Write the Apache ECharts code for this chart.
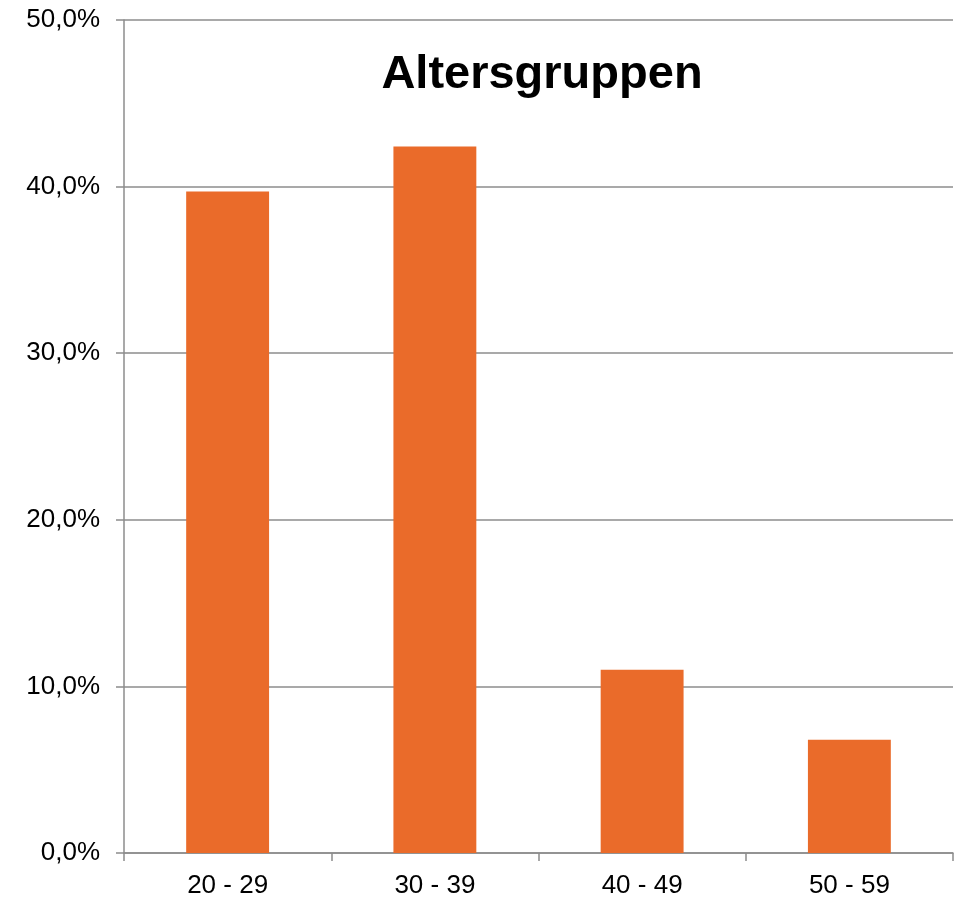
<!DOCTYPE html>
<html>
<head>
<meta charset="utf-8">
<script src="https://cdn.jsdelivr.net/npm/echarts@6/dist/echarts.min.js"></script>
<style>html,body{margin:0;padding:0;background:#fff}#c{width:956px;height:899px}</style>
</head>
<body>
<div id="c"></div>
<script>
var categories = ['20 - 29', '30 - 39', '40 - 49', '50 - 59'];
var values = [39.7, 42.4, 11.0, 6.8];
var titleText = 'Altersgruppen';

var chart = echarts.init(document.getElementById('c'), null, {renderer: 'canvas'});
var font = '"Liberation Sans", Arial, sans-serif';
chart.setOption({
  animation: false,
  backgroundColor: '#ffffff',
  title: {
    text: titleText,
    left: 537,
    top: 47,
    textAlign: 'center',
    textStyle: {fontFamily: font, fontWeight: 'bold', fontSize: 47, color: '#000'}
  },
  grid: {left: 124, right: 3, top: 20, bottom: 46, containLabel: false},
  xAxis: {
    type: 'category',
    data: categories,
    axisLine: {lineStyle: {color: '#8c8c8c', width: 1.5}},
    axisTick: {show: true, length: 8, lineStyle: {color: '#8c8c8c', width: 1.5}},
    axisLabel: {fontFamily: font, fontSize: 26, color: '#000', margin: 20}
  },
  yAxis: {
    type: 'value',
    min: 0, max: 50, interval: 10,
    axisLine: {show: true, lineStyle: {color: '#8c8c8c', width: 1.5}},
    axisTick: {show: true, length: 8, lineStyle: {color: '#8c8c8c', width: 1.5}},
    splitLine: {lineStyle: {color: '#8c8c8c', width: 1.5}},
    axisLabel: {
      fontFamily: font, fontSize: 26, color: '#000', margin: 24,
      padding: [5, 0, 0, 0],
      formatter: function (v) { return v.toFixed(1).replace('.', ',') + '%'; }
    }
  },
  series: [{
    type: 'bar',
    data: values,
    barWidth: '40%',
    itemStyle: {color: '#EA6B2A'}
  }]
});
</script>
</body>
</html>
